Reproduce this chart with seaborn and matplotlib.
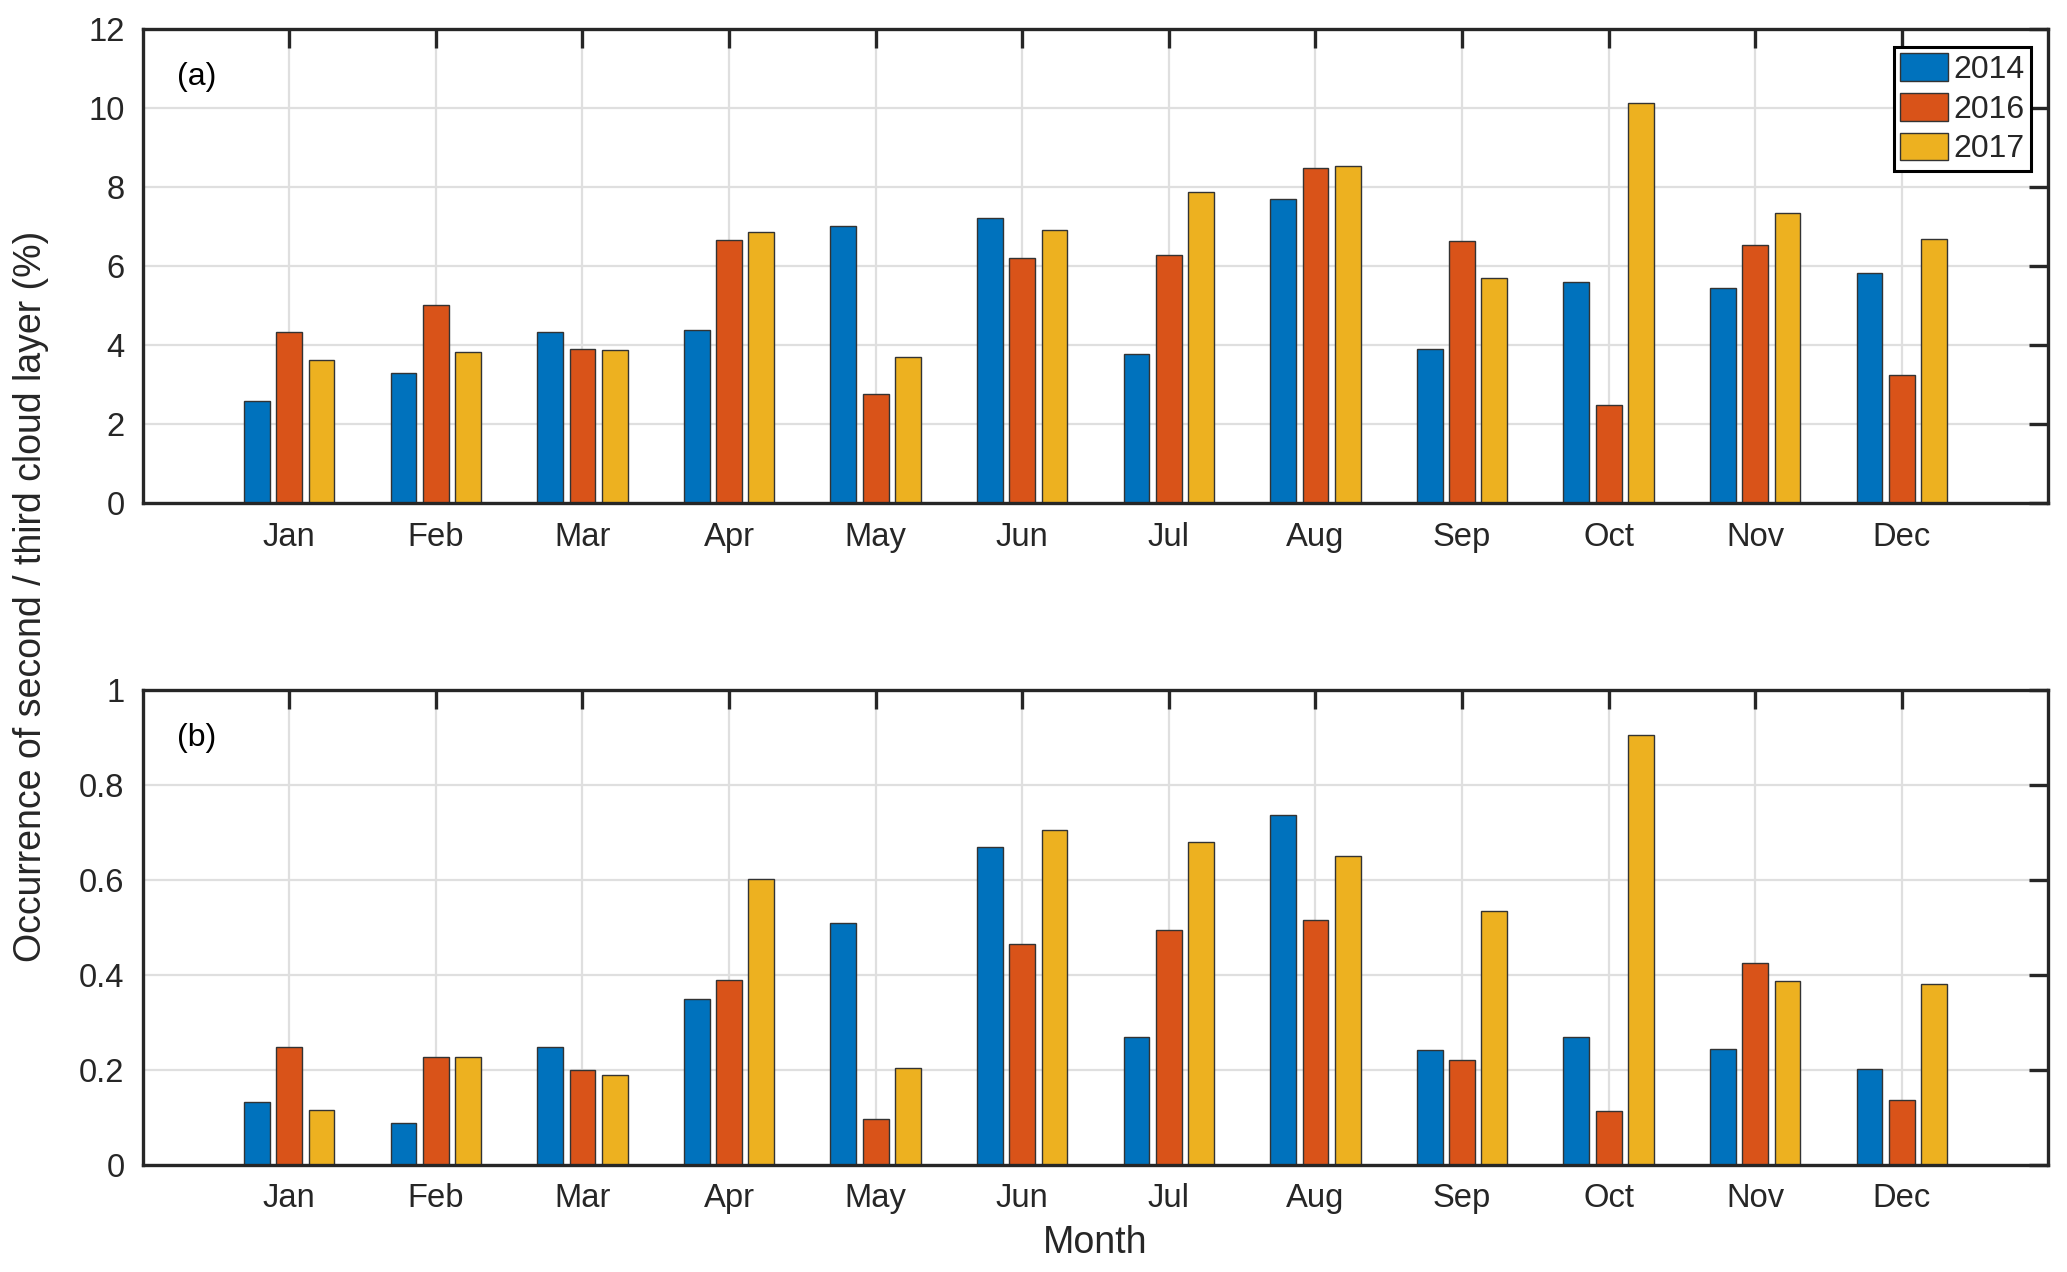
import matplotlib
matplotlib.use("Agg")
import matplotlib.pyplot as plt
import pandas as pd
import seaborn as sns

months = ['Jan', 'Feb', 'Mar', 'Apr', 'May', 'Jun', 'Jul', 'Aug', 'Sep', 'Oct', 'Nov', 'Dec']
years = ['2014', '2016', '2017']

# (a) occurrence, %
occ_a_2014 = [2.60, 3.30, 4.34, 4.39, 7.03, 7.22, 3.79, 7.70, 3.92, 5.60, 5.46, 5.83]
occ_a_2016 = [4.34, 5.03, 3.90, 6.67, 2.76, 6.22, 6.28, 8.50, 6.63, 2.48, 6.55, 3.24]
occ_a_2017 = [3.62, 3.83, 3.88, 6.88, 3.70, 6.92, 7.88, 8.53, 5.71, 10.14, 7.35, 6.68]

# (b)
occ_b_2014 = [0.131, 0.088, 0.248, 0.350, 0.510, 0.670, 0.268, 0.738, 0.242, 0.268, 0.244, 0.201]
occ_b_2016 = [0.248, 0.226, 0.199, 0.390, 0.095, 0.464, 0.495, 0.515, 0.221, 0.113, 0.424, 0.136]
occ_b_2017 = [0.115, 0.227, 0.189, 0.603, 0.203, 0.706, 0.680, 0.651, 0.534, 0.905, 0.386, 0.380]

colors = ['#0072BD', '#D95319', '#EDB120']
axis_col = '#262626'

sns.set_style('white')
plt.rcParams['font.family'] = ['Liberation Sans', 'DejaVu Sans']


def make_df(a, b, c):
    return pd.DataFrame({
        'month': months * 3,
        'year': [years[0]] * 12 + [years[1]] * 12 + [years[2]] * 12,
        'value': a + b + c,
    })


df_a = make_df(occ_a_2014, occ_a_2016, occ_a_2017)
df_b = make_df(occ_b_2014, occ_b_2016, occ_b_2017)

fig, (ax1, ax2) = plt.subplots(2, 1, figsize=(10.335, 6.36), dpi=200)
fig.subplots_adjust(left=0.069, right=0.991, top=0.977, bottom=0.0845, hspace=0.394)


def draw(ax, data, ylim, yticks, yticklabels, tag):
    sns.barplot(data=data, x='month', y='value', hue='year', palette=colors,
                saturation=1, width=0.66, gap=0.2, errorbar=None,
                edgecolor='#333333', linewidth=0.5, ax=ax)
    ax.set_xlim(-1, 12)
    ax.set_ylim(*ylim)
    ax.set_yticks(yticks)
    ax.set_yticklabels(yticklabels)
    ax.set_xlabel('')
    ax.set_ylabel('')
    ax.grid(True, color='#dfdfdf', linewidth=0.8)
    ax.set_axisbelow(True)
    ax.tick_params(direction='in', top=True, right=True, length=7, width=1.2,
                   color=axis_col, labelsize=11.8, labelcolor=axis_col, pad=6.5)
    for s in ax.spines.values():
        s.set_visible(True)
        s.set_linewidth(1.2)
        s.set_color(axis_col)
    ax.text(0.018, 0.9, tag, transform=ax.transAxes, fontsize=11.5,
            va='center', ha='left', color='black')


draw(ax1, df_a, (0, 12), range(0, 13, 2), [str(v) for v in range(0, 13, 2)], '(a)')
draw(ax2, df_b, (0, 1), [0, 0.2, 0.4, 0.6, 0.8, 1], ['0', '0.2', '0.4', '0.6', '0.8', '1'], '(b)')

ax2.get_legend().remove()
sns.move_legend(ax1, 'upper right', title=None, frameon=True, fancybox=False,
                edgecolor='black', framealpha=1, fontsize=11.5,
                handlelength=1.5, handleheight=0.95, labelspacing=0.25,
                handletextpad=0.15, borderpad=0.2, borderaxespad=0.55)
ax1.get_legend().get_frame().set_linewidth(1.1)

ax2.set_xlabel('Month', fontsize=13.5, color=axis_col, labelpad=4)
fig.text(0.015, 0.531, 'Occurrence of second / third cloud layer (%)', rotation=90,
         va='center', ha='center', fontsize=13.5, color=axis_col)

fig.savefig('out.png', dpi=200)
